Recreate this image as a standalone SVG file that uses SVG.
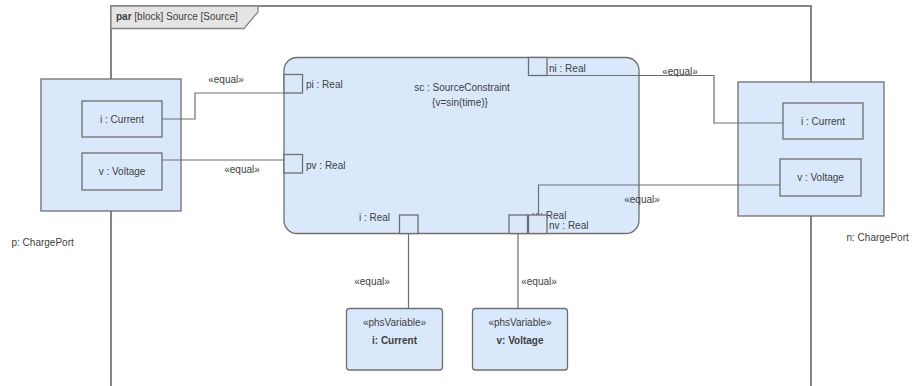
<svg xmlns="http://www.w3.org/2000/svg" width="917" height="386" viewBox="0 0 917 386">
<style>
text{font-family:"Liberation Sans",Arial,sans-serif;font-size:10px;fill:#404040}
.c{text-anchor:middle}
.b{font-weight:bold}
.blk{fill:#dae8fc;stroke:#6f6f6f;stroke-width:1.3}
.port{fill:#dae8fc;stroke:#6f6f6f;stroke-width:1.3}
.frame{fill:none;stroke:#858585;stroke-width:2}
.conn{fill:none;stroke:#6f6f6f;stroke-width:1.2}
</style>
<rect width="917" height="386" fill="#ffffff"/>
<g id="frame">
<polyline class="frame" points="111,386 111,6 811,6 811,386"/>
<polygon points="111,6 258,6 258,12 244,28.5 111,28.5" fill="#e4e4e4" stroke="#858585" stroke-width="1.3"/>
<text x="116" y="20"><tspan class="b">par</tspan> [block] Source [Source]</text>
</g>
<g id="p">
<rect class="blk" x="41" y="79" width="140" height="132"/>
<text x="11.5" y="246">p: ChargePort</text>
<g id="p_i"><rect class="blk" x="82" y="101" width="80" height="36"/><text class="c" x="122" y="122.5">i : Current</text></g>
<g id="p_v"><rect class="blk" x="82" y="153" width="80" height="37"/><text class="c" x="122" y="175">v : Voltage</text></g>
</g>
<g id="n">
<rect class="blk" x="738" y="82" width="146" height="134"/>
<text x="846.5" y="241">n: ChargePort</text>
<g id="n_i"><rect class="blk" x="783" y="103" width="80" height="36"/><text class="c" x="823" y="124.5">i : Current</text></g>
<g id="n_v"><rect class="blk" x="780" y="159" width="81" height="37"/><text class="c" x="820.5" y="181">v : Voltage</text></g>
</g>
<g id="sc">
<rect class="blk" x="284" y="57.5" width="355" height="176" rx="13" ry="13"/>
<text class="c" x="462" y="91">sc : SourceConstraint</text>
<text class="c" x="460" y="106">{v=sin(time)}</text>
<g id="sc_pi"><rect class="port" x="284" y="74.5" width="18.5" height="18.5"/><text x="306" y="88">pi : Real</text></g>
<g id="sc_pv"><rect class="port" x="284" y="154.5" width="18.5" height="18.5"/><text x="306" y="168.5">pv : Real</text></g>
<g id="sc_ni"><rect class="port" x="528.5" y="57.5" width="18.5" height="18"/><text x="549" y="71.5">ni : Real</text></g>
<g id="sc_i"><rect class="port" x="399.5" y="215" width="18.5" height="18.5"/><text x="390" y="220.5" text-anchor="end">i : Real</text></g>
<g id="sc_v"><text x="532.5" y="218.5">v : Real</text><rect class="port" x="509" y="215" width="18.5" height="18.5"/></g>
<g id="sc_nv"><rect class="port" x="528.5" y="215" width="18.5" height="18.5"/><text x="549" y="229">nv : Real</text></g>
</g>
<g id="phs_i">
<rect class="blk" x="346.5" y="308.5" width="96" height="61.5" rx="3" ry="3"/>
<text class="c" x="394.5" y="325.5">«phsVariable»</text>
<text class="c b" x="394.5" y="343.5">i: Current</text>
</g>
<g id="phs_v">
<rect class="blk" x="472.5" y="308.5" width="95" height="61.5" rx="3" ry="3"/>
<text class="c" x="520" y="325.5">«phsVariable»</text>
<text class="c b" x="520" y="343.5">v: Voltage</text>
</g>
<g id="connectors">
<polyline class="conn" points="162,119 195,119 195,93 284,93"/>
<text class="c" x="226" y="83">«equal»</text>
<polyline class="conn" points="162,160 284,160"/>
<text class="c" x="242" y="173">«equal»</text>
<polyline class="conn" points="547,75.5 714,75.5 714,123 783,123"/>
<text class="c" x="680" y="74.5">«equal»</text>
<polyline class="conn" points="780,185 538.5,185 538.5,215"/>
<text class="c" x="642" y="202.5">«equal»</text>
<polyline class="conn" points="408.5,233.5 408.5,308.5"/>
<text class="c" x="372" y="284.5">«equal»</text>
<polyline class="conn" points="518,233.5 518,308.5"/>
<text class="c" x="539" y="284.5">«equal»</text>
</g>
</svg>
